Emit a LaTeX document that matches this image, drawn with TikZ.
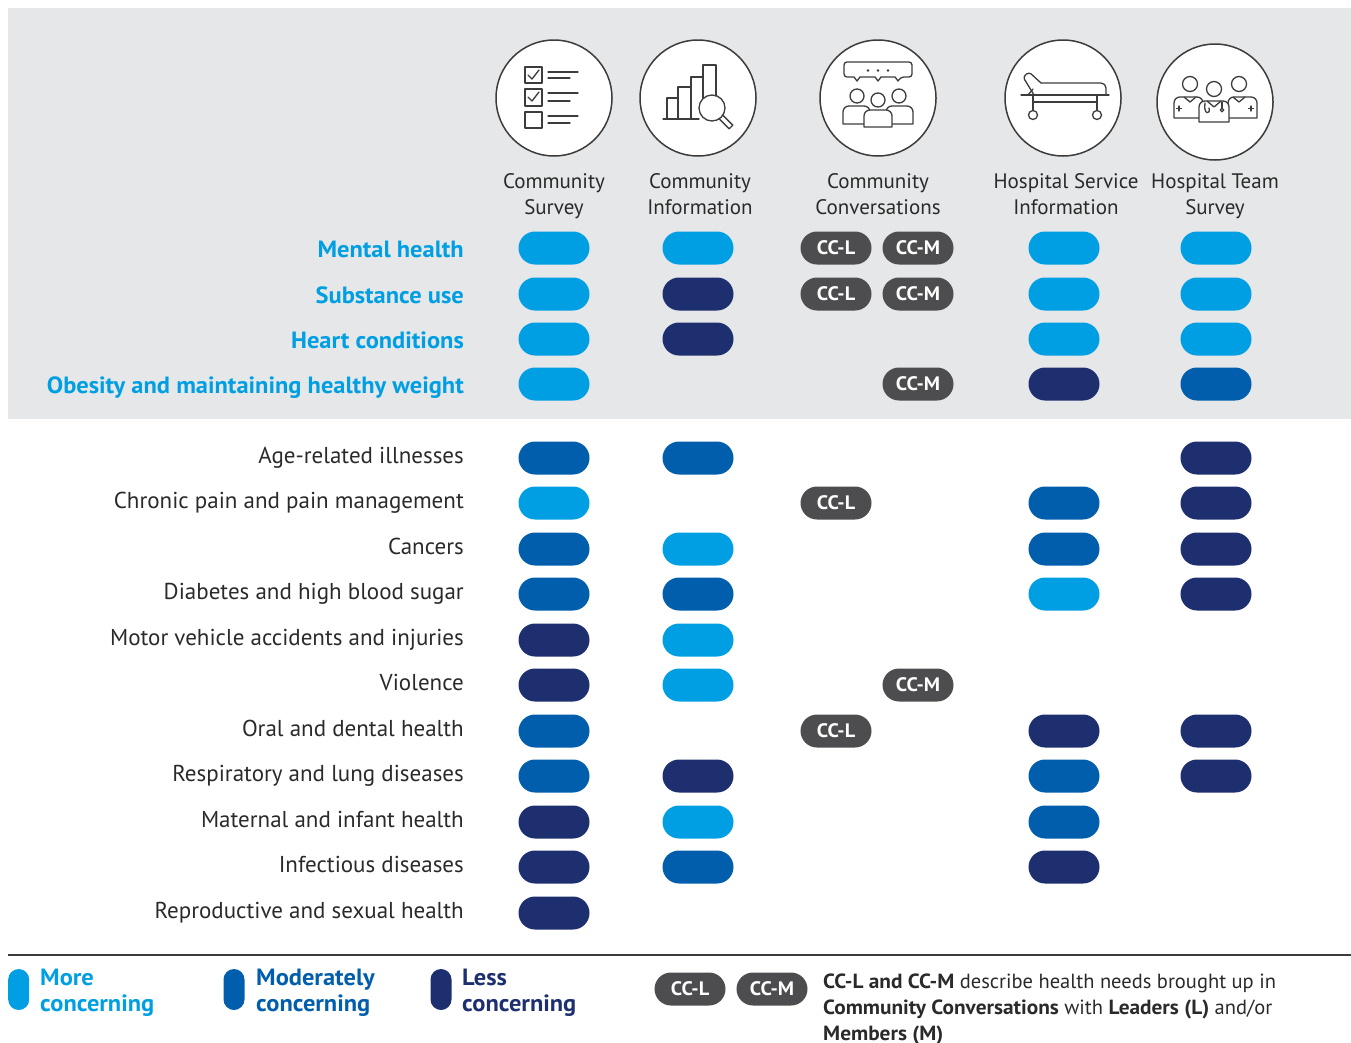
\documentclass[tikz,border=0pt]{standalone}
\usepackage{fontspec}
\setmainfont{PT Sans}[BoldFeatures={FakeStretch=1.04}]
\definecolor{lb}{HTML}{009FE3}
\definecolor{mb}{HTML}{005EAC}
\definecolor{db}{HTML}{1D2F6F}
\definecolor{ccg}{HTML}{4D4D4F}
\definecolor{bgg}{HTML}{E6E7E8}
\definecolor{txt}{HTML}{2A2A2A}
\definecolor{ico}{HTML}{3C3C3C}
\begin{document}
\begin{tikzpicture}[x=1pt,y=-1pt,
  pill/.style={draw=none, minimum width=71pt, minimum height=33pt, rounded corners=16.5pt, inner sep=0pt},
  ccpill/.style={pill, fill=ccg, text=white, font=\fontsize{19.5}{22}\selectfont\bfseries},
  vpill/.style={draw=none, minimum width=21pt, minimum height=41pt, rounded corners=10.5pt, inner sep=0pt},
  rowlab/.style={anchor=base east, inner sep=0pt, text=txt, font=\fontsize{23}{26}\selectfont},
  keylab/.style={rowlab, text=lb, font=\fontsize{23.5}{26}\selectfont\bfseries},
  head/.style={anchor=north, align=center, inner sep=0pt, text=txt, font=\fontsize{21}{26}\selectfont},
  iconc/.style={circle, draw=ico, line width=1.5pt, fill=white, minimum size=116pt, inner sep=0pt},
  icon/.style={draw=ico, line width=1.3pt, line join=round, line cap=round},
  legl/.style={anchor=north west, align=left, inner sep=0pt, font=\fontsize{23.5}{26}\selectfont\bfseries}
]
\useasboundingbox (0,0) rectangle (1351,1042);
\fill[bgg] (8,8) rectangle (1351,419);

% ---------- icons ----------
\node[iconc] (i1) at (554,98) {};
\node[iconc] (i2) at (698,98) {};
\node[iconc] (i3) at (878,98) {};
\node[iconc] (i4) at (1063,98) {};
\node[iconc] (i5) at (1215,102) {};

% icon 1: checklist
\draw[icon] (525,67) rectangle (542,83);
\draw[icon] (528,75) -- (532,79) -- (539,70);
\draw[icon] (548,72) -- (578,72) (548,78) -- (570,78);
\draw[icon] (525,89) rectangle (542,106);
\draw[icon] (528,97) -- (532,101) -- (539,92);
\draw[icon] (548,93) -- (578,93) (548,101) -- (570,101);
\draw[icon] (525,112) rectangle (542,128);
\draw[icon] (548,116) -- (578,116) (548,123) -- (570,123);

% icon 2: bar chart + magnifier
\draw[icon] (663,119) -- (699,119);
\draw[icon] (667,119) -- (667,98) -- (678,98) -- (678,87) -- (691,87) -- (691,77) -- (703,77) -- (703,65) -- (716,65) -- (716,96);
\draw[icon] (678,119) -- (678,98) (691,119) -- (691,87) (703,98) -- (703,77);
\draw[icon] (712,108) circle (13pt);
\draw[icon] (722.8,115.2) -- (732.8,125.2) -- (729.2,128.8) -- (719.2,118.8);

% icon 3: conversation
\draw[icon, rounded corners=3pt] (844,62) -- (912,62) -- (912,77) -- (901,77) [sharp corners] -- (898,81) -- (895,77) -- (881,77) -- (878,81) -- (875,77) -- (860,77) -- (857,81) -- (854,77) [rounded corners=3pt] -- (844,77) -- cycle;
\fill[ico] (868,70.5) circle (1.3pt) (878,70.5) circle (1.3pt) (888,70.5) circle (1.3pt);
\draw[icon] (857,96) circle (7pt) (899,96) circle (7pt);
\draw[icon, fill=white, rounded corners=6pt] (843,124) -- (843,106) -- (870,106) [sharp corners] -- (870,124) -- cycle;
\draw[icon, fill=white, rounded corners=6pt] (886,124) -- (886,106) -- (913,106) [sharp corners] -- (913,124) -- cycle;
\draw[icon, fill=white, rounded corners=6pt] (864,127) -- (864,110) -- (892,110) [sharp corners] -- (892,127) -- cycle;
\draw[icon] (878,100) circle (7pt);

% icon 4: hospital bed
\draw[icon, rounded corners=3pt] (1041,83) -- (1029,72) -- (1023,77) -- (1031,90) -- (1034,95);
\draw[icon, rounded corners=5pt] (1041,83) -- (1106,83) -- (1106,95);
\draw[icon] (1021,95) -- (1109,95);
\draw[icon] (1028,95) -- (1033,89);
\draw[icon] (1033,102) -- (1097,102);
\draw[icon] (1033,95) -- (1033,110) (1097,95) -- (1097,110);
\draw[icon] (1033,115) circle (4.5pt) (1097,115) circle (4.5pt);

% icon 5: hospital team
\draw[icon] (1190,84) circle (7.5pt) (1239,84) circle (7.5pt);
\draw[icon, fill=white, rounded corners=6pt] (1174,118) -- (1174,97) -- (1203,97) [sharp corners] -- (1203,118) -- cycle;
\draw[icon, fill=white, rounded corners=6pt] (1228,118) -- (1228,97) -- (1257,97) [sharp corners] -- (1257,118) -- cycle;
\draw[icon, fill=white, rounded corners=6pt] (1199,122) -- (1199,101) -- (1229,101) [sharp corners] -- (1229,122) -- cycle;
\draw[icon, fill=white] (1214,89) circle (7.5pt);
\draw[icon] (1184,97) -- (1190,102) -- (1196,97);
\draw[icon] (1233,97) -- (1239,102) -- (1245,97);
\draw[icon] (1207,101) -- (1214,107) -- (1221,101);
\draw[icon] (1179,106) -- (1179,111) (1176.5,108.5) -- (1181.5,108.5);
\draw[icon] (1251,106) -- (1251,111) (1248.5,108.5) -- (1253.5,108.5);
\draw[icon] (1205,103) .. controls (1203,115) and (1211,115) .. (1209,108);
\draw[icon] (1222,102) -- (1222,108);
\draw[icon] (1222,110) circle (1.8pt);

% ---------- column headers ----------
\node[head] (h1) at (554,169.8) {\strut Community\\Survey};
\node[head] (h2) at (700,169.8) {\strut Community\\Information};
\node[head] (h3) at (878,169.8) {\strut Community\\Conversations};
\node[head] (h4) at (1066,169.8) {\strut Hospital Service\\Information};
\node[head] (h5) at (1215,169.8) {\strut Hospital Team\\Survey};

% ---------- row labels ----------
\node[keylab] (l1) at (464,257) {Mental health};
\node[keylab] (l2) at (464,303) {Substance use};
\node[keylab] (l3) at (464,348) {Heart conditions};
\node[keylab] (l4) at (464,393) {Obesity and maintaining healthy weight};
\node[rowlab] (l5) at (464,463) {Age-related illnesses};
\node[rowlab] (l6) at (464,508) {Chronic pain and pain management};
\node[rowlab] (l7) at (464,554) {Cancers};
\node[rowlab] (l8) at (464,599) {Diabetes and high blood sugar};
\node[rowlab] (l9) at (464,645) {Motor vehicle accidents and injuries};
\node[rowlab] (l10) at (464,690) {Violence};
\node[rowlab] (l11) at (464,736) {Oral and dental health};
\node[rowlab] (l12) at (464,781) {Respiratory and lung diseases};
\node[rowlab] (l13) at (464,827) {Maternal and infant health};
\node[rowlab] (l14) at (464,872) {Infectious diseases};
\node[rowlab] (l15) at (464,918) {Reproductive and sexual health};

% ---------- pills ----------
\foreach \px/\py/\pc/\pn in {
554/248/lb/p1a, 698/248/lb/p1b, 1064/248/lb/p1d, 1216/248/lb/p1e,
554/294/lb/p2a, 698/294/db/p2b, 1064/294/lb/p2d, 1216/294/lb/p2e,
554/339/lb/p3a, 698/339/db/p3b, 1064/339/lb/p3d, 1216/339/lb/p3e,
554/384/lb/p4a, 1064/384/db/p4d, 1216/384/mb/p4e,
554/458/mb/p5a, 698/458/mb/p5b, 1216/458/db/p5e,
554/503/lb/p6a, 1064/503/mb/p6d, 1216/503/db/p6e,
554/549/mb/p7a, 698/549/lb/p7b, 1064/549/mb/p7d, 1216/549/db/p7e,
554/594/mb/p8a, 698/594/mb/p8b, 1064/594/lb/p8d, 1216/594/db/p8e,
554/640/db/p9a, 698/640/lb/p9b,
554/685/db/p10a, 698/685/lb/p10b,
554/731/mb/p11a, 1064/731/db/p11d, 1216/731/db/p11e,
554/776/mb/p12a, 698/776/db/p12b, 1064/776/mb/p12d, 1216/776/db/p12e,
554/822/db/p13a, 698/822/lb/p13b, 1064/822/mb/p13d,
554/867/db/p14a, 698/867/mb/p14b, 1064/867/db/p14d,
554/913/db/p15a}
  \node[pill, fill=\pc] (\pn) at (\px,\py) {};

\foreach \px/\py/\pt/\pn in {
836/248/CC-L/c1l, 918/248/CC-M/c1m,
836/294/CC-L/c2l, 918/294/CC-M/c2m,
918/384/CC-M/c4m,
836/503/CC-L/c6l,
918/685/CC-M/c10m,
836/731/CC-L/c11l}
  \node[ccpill] (\pn) at (\px,\py) {\pt};

% ---------- legend ----------
\draw[ico, line width=1.3pt] (8,955) -- (1351,955);
\node[vpill, fill=lb] (k1) at (18.7,989.5) {};
\node[vpill, fill=mb] (k2) at (234,989.5) {};
\node[vpill, fill=db] (k3) at (441,989.5) {};
\node[legl, text=lb] (t1) at (40,967) {\strut More\\concerning};
\node[legl, text=mb] (t2) at (256,967) {\strut Moderately\\concerning};
\node[legl, text=db] (t3) at (462,967) {\strut Less\\concerning};
\node[ccpill] (kl) at (690,989) {CC-L};
\node[ccpill] (km) at (772,989) {CC-M};
\node[anchor=north west, align=left, inner sep=0pt, text=txt, font=\fontsize{20.5}{26}\selectfont] (kt) at (823,969.8)
  {\strut\textbf{CC-L and CC-M} describe health needs brought up in\\
   \textbf{Community Conversations} with \textbf{Leaders (L)} and/or\\
   \textbf{Members (M)}};
\end{tikzpicture}
\end{document}
